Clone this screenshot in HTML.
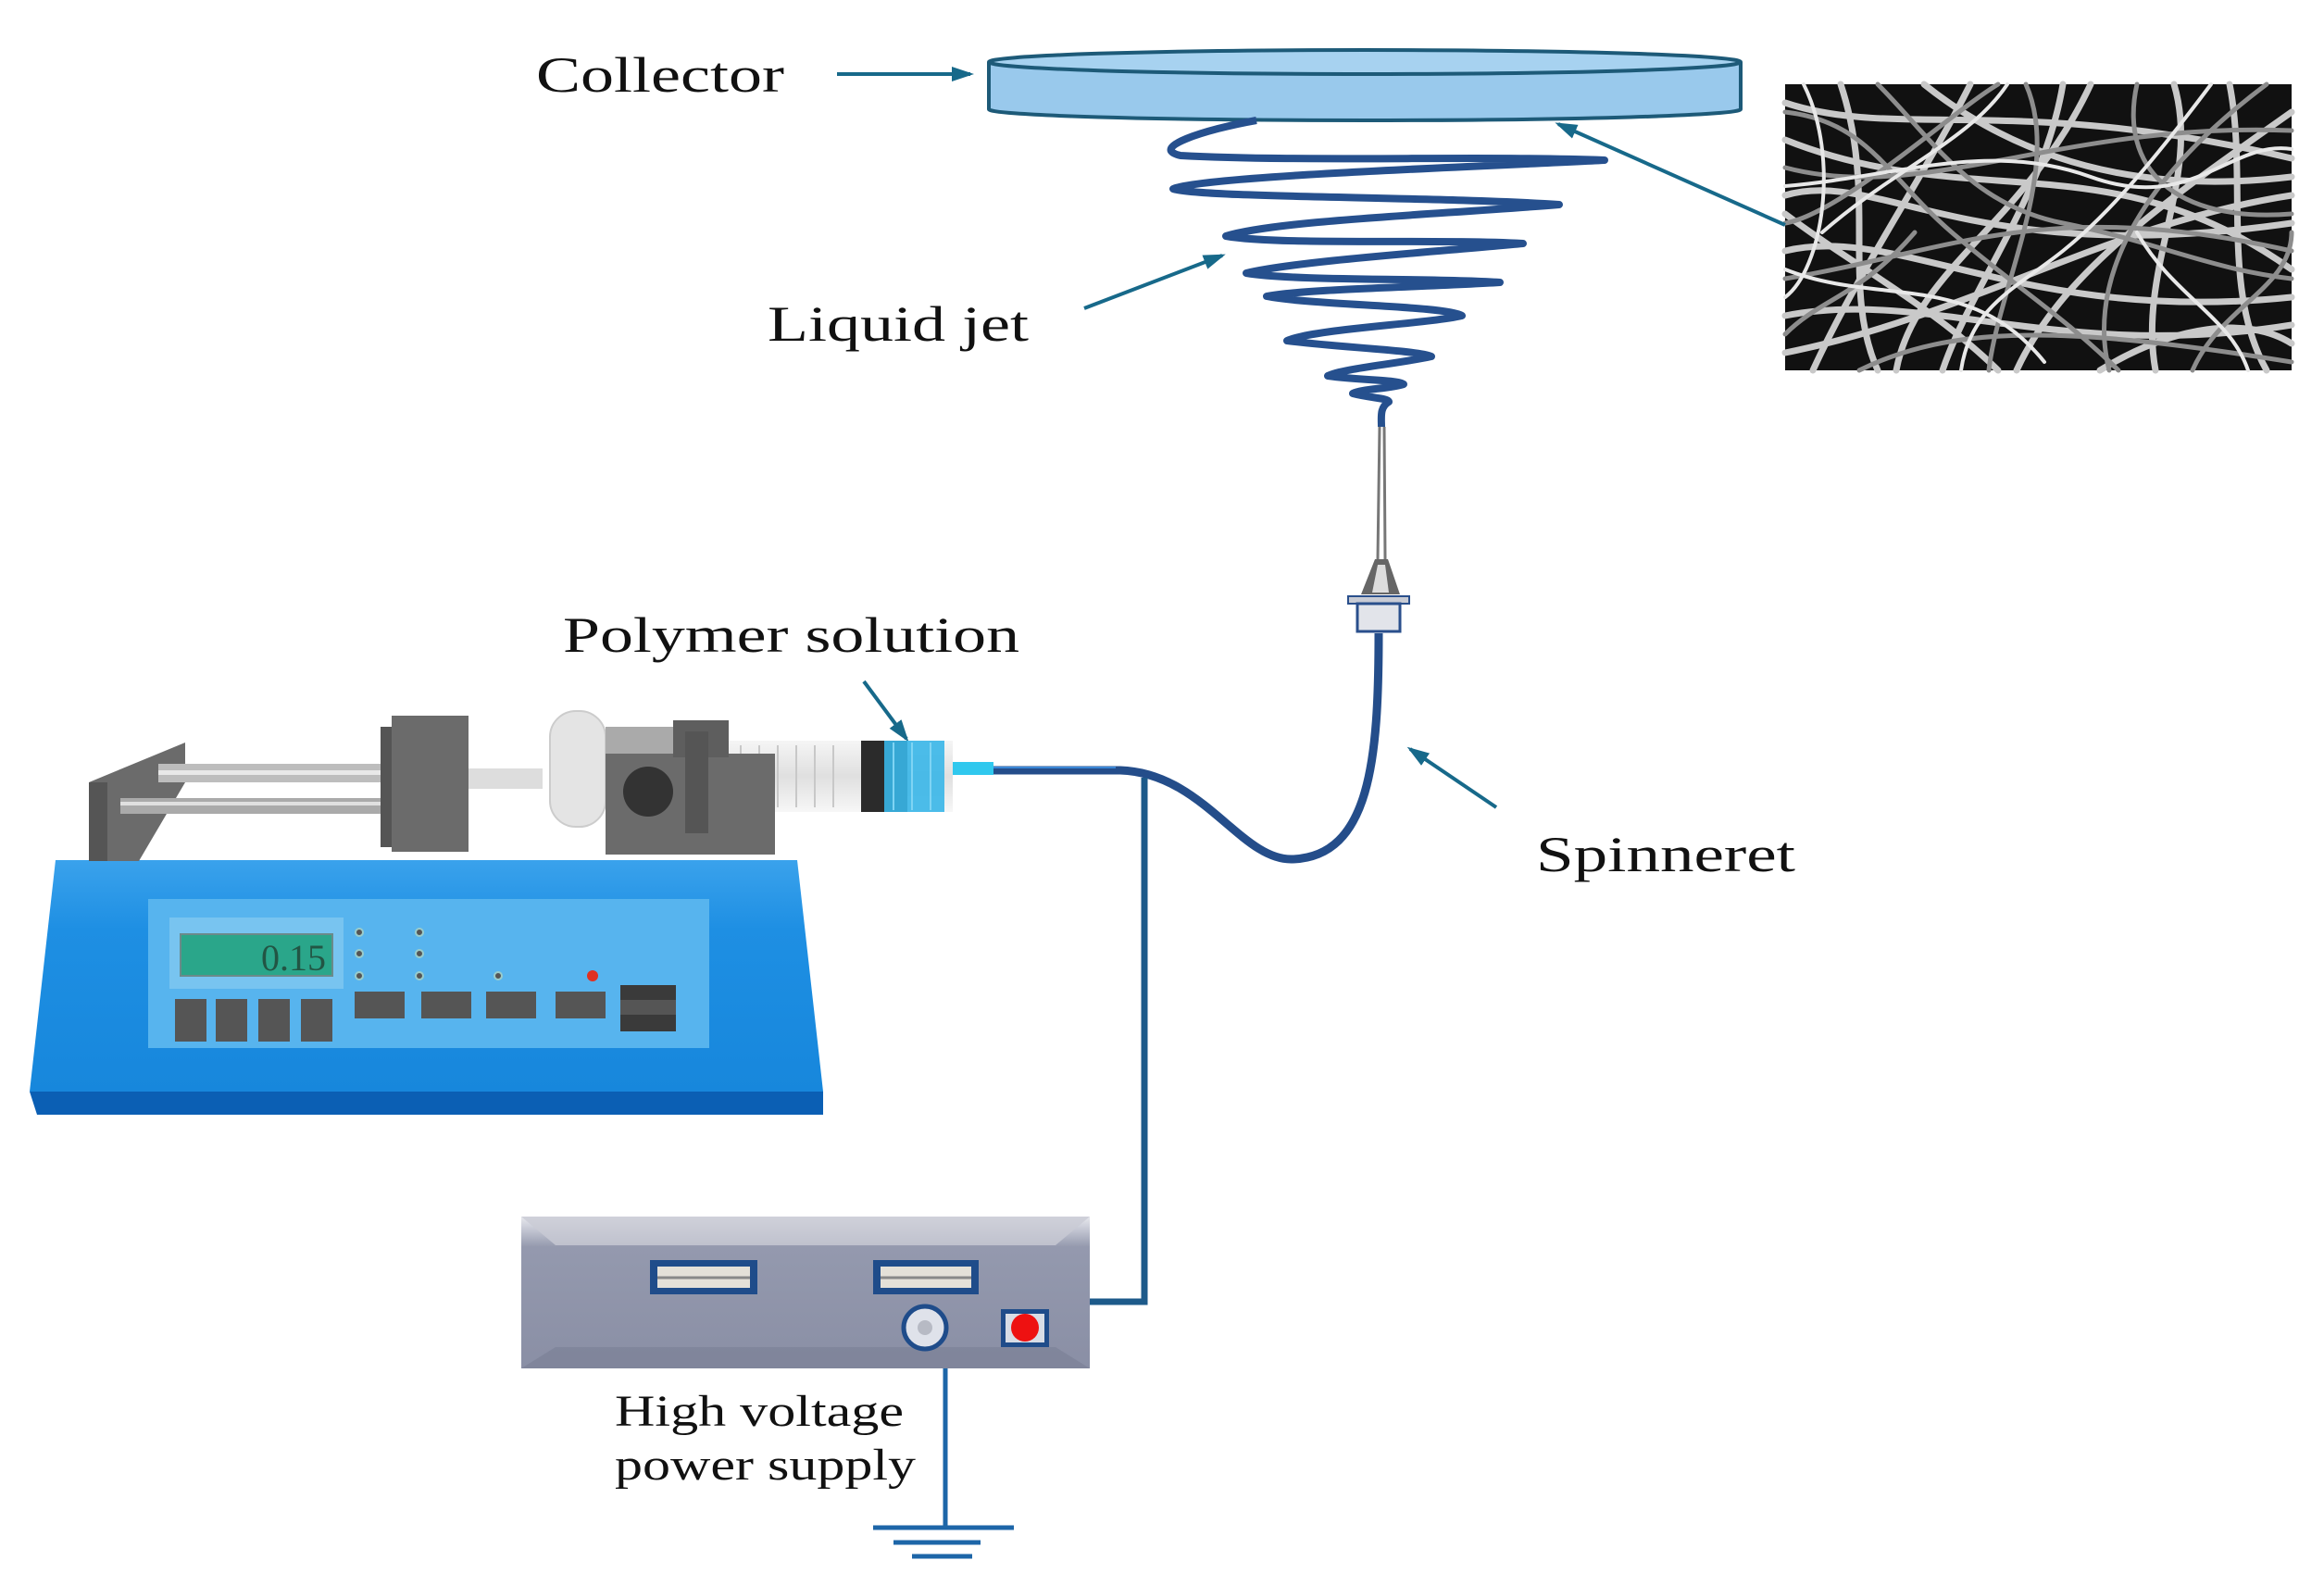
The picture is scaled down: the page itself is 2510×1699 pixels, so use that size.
<!DOCTYPE html>
<html><head><meta charset="utf-8"><style>
html,body{margin:0;padding:0;background:#fff;}
svg{display:block;}
text{font-family:"Liberation Serif",serif;fill:#111;}
</style></head><body>
<svg width="2510" height="1699" viewBox="0 0 2510 1699" xmlns="http://www.w3.org/2000/svg">
<defs>
<marker id="ah" markerWidth="24" markerHeight="20" refX="20" refY="10" orient="auto" markerUnits="userSpaceOnUse" viewBox="0 0 24 20">
<path d="M0,2 L24,10 L0,18 z" fill="#17698a"/>
</marker>
<linearGradient id="pumpg" x1="0" y1="0" x2="0" y2="1">
<stop offset="0" stop-color="#3aa2ec"/><stop offset="0.3" stop-color="#1e8fe3"/><stop offset="1" stop-color="#1787dc"/>
</linearGradient>
<linearGradient id="psg" x1="0" y1="0" x2="0" y2="1">
<stop offset="0" stop-color="#e8e9ee"/><stop offset="0.2" stop-color="#9499ae"/><stop offset="1" stop-color="#8a8fa5"/>
</linearGradient>
<linearGradient id="barrel" x1="0" y1="0" x2="0" y2="1">
<stop offset="0" stop-color="#f4f4f4"/><stop offset="0.5" stop-color="#dcdcdc"/><stop offset="1" stop-color="#f6f6f6"/>
</linearGradient>
</defs>

<!-- Collector -->
<path d="M1068,67 L1068,118 A406,12 0 0 0 1880,118 L1880,67" fill="#99c9ec" stroke="#1d5a78" stroke-width="4"/>
<ellipse cx="1474" cy="67" rx="406" ry="13" fill="#a7d2f0" stroke="#1d5a78" stroke-width="4"/>
<text x="579" y="99" font-size="54" textLength="268" lengthAdjust="spacingAndGlyphs">Collector</text>
<line x1="904" y1="80" x2="1048" y2="80" stroke="#17698a" stroke-width="4" marker-end="url(#ah)"/>

<!-- SEM image -->
<rect x="1928" y="91" width="547" height="309" fill="#111"/>
<g transform="translate(1928,91)" fill="none" stroke-linecap="round">
<g stroke="#c9c9c9" stroke-width="7">
<path d="M0,20 C120,60 250,10 547,80"/><path d="M0,120 C100,90 200,200 547,150"/>
<path d="M30,309 C80,200 150,100 200,0"/><path d="M120,309 C140,200 260,150 330,0"/>
<path d="M0,250 C150,220 300,300 547,260"/><path d="M250,309 C300,200 420,120 547,30"/>
<path d="M400,309 C380,200 450,100 420,0"/><path d="M0,60 C200,140 350,60 547,200"/>
<path d="M60,0 C100,120 60,220 100,309"/><path d="M0,180 C120,150 260,260 547,230"/>
<path d="M300,0 C280,120 200,220 170,309"/><path d="M480,0 C500,100 470,220 520,309"/>
<path d="M0,290 C200,250 350,150 547,120"/><path d="M150,0 C250,80 380,120 547,100"/>
<path d="M0,140 C80,200 160,240 230,309"/><path d="M340,309 C420,260 500,250 547,280"/>
</g>
<g stroke="#8d8d8d" stroke-width="5">
<path d="M0,90 C150,130 300,40 547,50"/><path d="M0,210 C180,180 280,120 547,180"/>
<path d="M220,309 C230,220 300,90 260,0"/><path d="M350,309 C330,230 360,120 520,0"/>
<path d="M0,150 C60,140 180,30 230,0"/><path d="M80,309 C180,260 300,260 547,300"/>
<path d="M440,309 C470,240 547,220 547,160"/><path d="M0,30 C90,40 110,100 180,160 S300,250 360,309"/>
<path d="M380,0 C360,90 420,150 547,140"/><path d="M0,270 C40,230 80,230 140,160"/>
<path d="M100,0 C160,60 200,130 300,150 S460,200 547,210"/>
</g>
<g stroke="#e8e8e8" stroke-width="4">
<path d="M0,110 C120,100 220,60 330,100 S480,60 547,70"/><path d="M20,0 C60,80 40,200 0,230"/>
<path d="M190,309 C200,240 250,220 300,180 S400,80 460,0"/><path d="M0,200 C100,240 200,200 280,300"/>
<path d="M500,309 C480,250 420,230 380,160"/><path d="M240,0 C200,60 120,90 40,160"/>
</g>
</g>
<line x1="1928" y1="243" x2="1683" y2="134" stroke="#17698a" stroke-width="4" marker-end="url(#ah)"/>

<!-- Liquid jet -->
<path d="M1357,130 C1300,140 1240,160 1275,168 C1400,175 1600,168 1733,173 C1600,180 1300,190 1267,204 C1300,214 1550,212 1684,221 C1550,232 1380,238 1324,255 C1380,265 1550,258 1645,263 C1550,272 1400,282 1346,295 C1400,304 1550,300 1620,305 C1540,310 1410,312 1368,320 C1420,330 1560,330 1579,341 C1540,350 1420,355 1390,368 C1440,375 1530,378 1546,385 C1510,393 1450,398 1434,406 C1470,411 1510,410 1516,415 C1500,420 1470,420 1461,425 C1480,430 1500,430 1500,434 C1490,440 1492,450 1492,461" fill="none" stroke="#26508e" stroke-width="8" stroke-linejoin="round"/>
<text x="829" y="368" font-size="54" textLength="282" lengthAdjust="spacingAndGlyphs">Liquid jet</text>
<line x1="1171" y1="333" x2="1320" y2="276" stroke="#17698a" stroke-width="4" marker-end="url(#ah)"/>

<!-- needle -->
<path d="M1490,461 L1488,604 M1495,461 L1496,604" stroke="#777" stroke-width="3"/>
<path d="M1485,604 L1470,642 L1512,642 L1499,604 z" fill="#666"/>
<path d="M1488,610 L1482,640 L1500,640 L1496,610z" fill="#ddd"/>
<rect x="1456" y="644" width="66" height="8" fill="#c8cbd4" stroke="#2a4f8c" stroke-width="2"/>
<rect x="1466" y="652" width="46" height="30" fill="#e2e4ea" stroke="#2a4f8c" stroke-width="3"/>

<!-- tube -->
<path d="M1073,832 L1210,832 C1300,835 1340,930 1396,928 C1480,925 1489,820 1489,684" fill="none" stroke="#244d8a" stroke-width="9"/>
<path d="M1073,829 L1205,829" stroke="#3a86d6" stroke-width="2"/>

<text x="1659" y="941" font-size="54" textLength="280" lengthAdjust="spacingAndGlyphs">Spinneret</text>
<line x1="1616" y1="872" x2="1523" y2="809" stroke="#17698a" stroke-width="4" marker-end="url(#ah)"/>

<text x="608" y="704" font-size="54" textLength="493" lengthAdjust="spacingAndGlyphs">Polymer solution</text>
<line x1="933" y1="736" x2="979" y2="798" stroke="#17698a" stroke-width="4" marker-end="url(#ah)"/>

<!-- Pump -->
<path d="M60,929 L861,929 L889,1179 L32,1179 z" fill="url(#pumpg)"/>
<path d="M32,1179 L889,1179 L889,1204 L40,1204 z" fill="#0b5fb4"/>
<path d="M96,930 L96,845 L200,802 L200,845 L150,930z" fill="#6b6b6b"/>
<path d="M96,930 L96,845 L116,845 L116,930z" fill="#555"/>
<rect x="171" y="825" width="252" height="20" fill="#bdbdbd"/>
<rect x="171" y="832" width="252" height="5" fill="#e8e8e8"/>
<rect x="130" y="862" width="293" height="17" fill="#aaa"/>
<rect x="130" y="866" width="293" height="4" fill="#e0e0e0"/>
<rect x="411" y="785" width="12" height="130" fill="#555"/>
<rect x="423" y="773" width="83" height="147" fill="#6b6b6b"/>
<rect x="506" y="830" width="80" height="22" fill="#ddd"/>
<rect x="594" y="768" width="60" height="125" rx="28" fill="#e4e4e4" stroke="#ccc" stroke-width="2"/>
<rect x="654" y="785" width="80" height="45" fill="#aaa"/>
<rect x="740" y="800" width="289" height="77" fill="url(#barrel)" opacity="0.9"/>
<g stroke="#c8c8c8" stroke-width="2">
<line x1="800" y1="805" x2="800" y2="872"/><line x1="820" y1="805" x2="820" y2="872"/><line x1="840" y1="805" x2="840" y2="872"/><line x1="860" y1="805" x2="860" y2="872"/><line x1="880" y1="805" x2="880" y2="872"/><line x1="900" y1="805" x2="900" y2="872"/>
</g>
<rect x="930" y="800" width="50" height="77" fill="#2b2b2b"/>
<rect x="955" y="800" width="65" height="77" fill="#39b6e8" opacity="0.9"/>
<g stroke="#7fd4f4" stroke-width="2"><line x1="965" y1="802" x2="965" y2="875"/><line x1="985" y1="802" x2="985" y2="875"/><line x1="1005" y1="802" x2="1005" y2="875"/></g>
<rect x="1029" y="823" width="44" height="14" fill="#30c8ee"/>
<rect x="654" y="814" width="183" height="109" fill="#6b6b6b"/>
<rect x="727" y="778" width="60" height="40" fill="#5e5e5e"/>
<rect x="740" y="790" width="25" height="110" fill="#555"/>
<circle cx="700" cy="855" r="27" fill="#333"/>
<path d="M160,971 L766,971 L766,1132 L160,1132 z" fill="#57b4ee"/>
<rect x="183" y="991" width="188" height="77" fill="#78c4f0"/>
<rect x="195" y="1009" width="164" height="45" fill="#2aa68a" stroke="#6a8a8a" stroke-width="2"/>
<text x="352" y="1048" font-family="Liberation Mono,monospace" font-size="40" text-anchor="end" style="fill:#225544">0.15</text>
<g fill="#555">
<rect x="189" y="1079" width="34" height="46"/><rect x="233" y="1079" width="34" height="46"/><rect x="279" y="1079" width="34" height="46"/><rect x="325" y="1079" width="34" height="46"/>
<rect x="383" y="1071" width="54" height="29"/><rect x="455" y="1071" width="54" height="29"/><rect x="525" y="1071" width="54" height="29"/><rect x="600" y="1071" width="54" height="29"/>
</g>
<rect x="670" y="1064" width="60" height="50" fill="#3a3a3a"/>
<rect x="670" y="1080" width="60" height="16" fill="#555"/>
<g fill="#555" stroke="#9cc" stroke-width="2">
<circle cx="388" cy="1007" r="4"/><circle cx="388" cy="1030" r="4"/><circle cx="388" cy="1054" r="4"/>
<circle cx="453" cy="1007" r="4"/><circle cx="453" cy="1030" r="4"/><circle cx="453" cy="1054" r="4"/>
<circle cx="538" cy="1054" r="4"/>
</g>
<circle cx="640" cy="1054" r="6" fill="#e03020"/>

<path d="M1236,840 L1236,1406 L1168,1406" fill="none" stroke="#1d5a8a" stroke-width="7"/>

<rect x="563" y="1314" width="614" height="164" fill="url(#psg)"/>
<path d="M563,1314 L600,1345 L1140,1345 L1177,1314 z" fill="#c9cbd5" opacity="0.8"/>
<path d="M563,1478 L600,1455 L1140,1455 L1177,1478 z" fill="#7a7f95" opacity="0.6"/>
<rect x="702" y="1361" width="116" height="37" fill="#1f4c8a"/>
<rect x="710" y="1368" width="100" height="23" fill="#e4e0d8"/>
<line x1="710" y1="1380" x2="810" y2="1380" stroke="#888" stroke-width="3"/>
<rect x="943" y="1361" width="114" height="37" fill="#1f4c8a"/>
<rect x="951" y="1368" width="98" height="23" fill="#e4e0d8"/>
<line x1="951" y1="1380" x2="1049" y2="1380" stroke="#888" stroke-width="3"/>
<circle cx="999" cy="1434" r="23" fill="#dfe2ea" stroke="#1f4c8a" stroke-width="5"/>
<circle cx="999" cy="1434" r="8" fill="#b7bac4"/>
<rect x="1081" y="1414" width="52" height="41" fill="#1f4c8a"/>
<rect x="1086" y="1419" width="42" height="31" fill="#d8dde6"/>
<circle cx="1107" cy="1434" r="15" fill="#ee1111"/>

<line x1="1021" y1="1478" x2="1021" y2="1650" stroke="#1d66a8" stroke-width="5"/>
<line x1="943" y1="1650" x2="1095" y2="1650" stroke="#1d66a8" stroke-width="5"/>
<line x1="965" y1="1666" x2="1059" y2="1666" stroke="#1d66a8" stroke-width="5"/>
<line x1="985" y1="1681" x2="1050" y2="1681" stroke="#1d66a8" stroke-width="5"/>

<text x="664" y="1540" font-size="48" textLength="312" lengthAdjust="spacingAndGlyphs">High voltage</text>
<text x="664" y="1598" font-size="48" textLength="325" lengthAdjust="spacingAndGlyphs">power supply</text>
</svg>
</body></html>
